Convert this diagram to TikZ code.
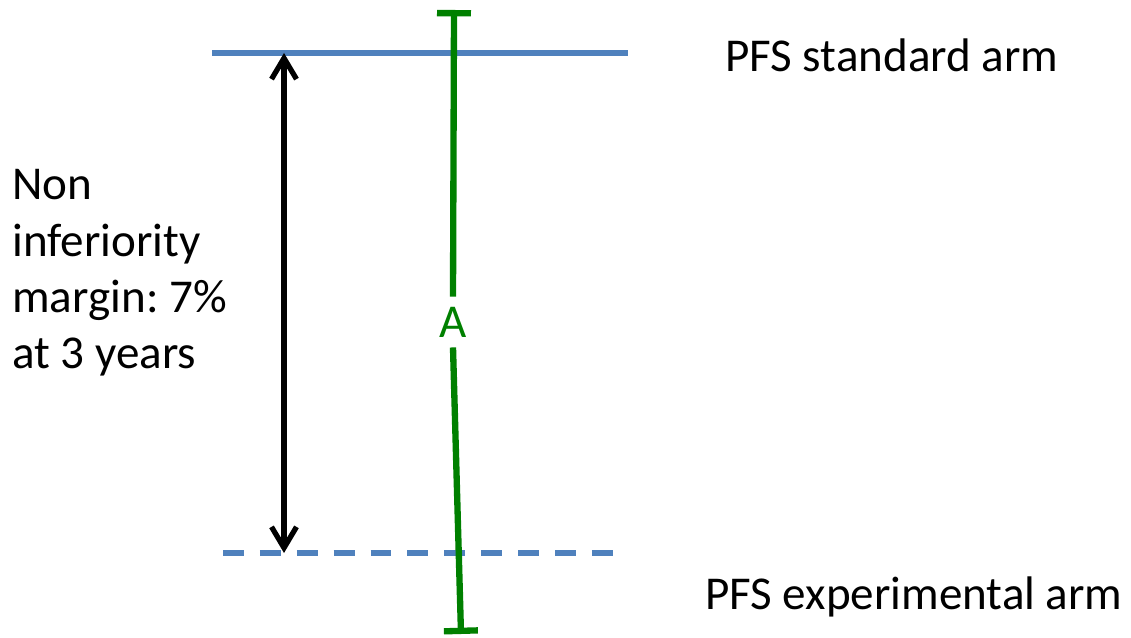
\documentclass[tikz,border=0pt]{standalone}
\usepackage{fontspec}
\setmainfont{Carlito}
\usetikzlibrary{arrows.meta}
\definecolor{armblue}{HTML}{4F81BD}
\definecolor{cigreen}{HTML}{008000}
\frenchspacing

\begin{document}
\begin{tikzpicture}[x=0.02cm,y=-0.02cm,font=\fontsize{26.8}{32}\selectfont,
  arm/.style={armblue,line width=3pt},
  ci/.style={cigreen,line width=3.6pt},
  lbl/.style={inner sep=0pt,anchor=base west}]
\useasboundingbox (0,0) rectangle (1131,638);
% the two arms
\coordinate (std-l) at (212,53);
\coordinate (std-r) at (628,53);
\coordinate (exp-l) at (223,553);
\coordinate (exp-r) at (620,553);
\draw[arm] (std-l)--(std-r);
\draw[arm,dash pattern=on 11.9pt off 9.1pt] (exp-l)--(exp-r);
\node[lbl] (std) at (725,72) {PFS standard arm};
\node[lbl] (exp) at (705,609) {PFS experimental arm};
% margin
\coordinate (mtop) at (284,53);
\coordinate (mbot) at (284,553);
\draw[line width=3pt,{Straight Barb[length=0.42cm,width=0.5cm]}-{Straight Barb[length=0.42cm,width=0.5cm]}] (mtop)--(mbot);
\node[lbl,text width=5cm,align=flush left] (margin) at (12,200) {Non\\inferiority\\margin: 7\%\\at 3 years};
% confidence interval
\node[cigreen,inner sep=0.2cm] (A) at (453,322) {A};
\coordinate (ci-top) at (454,10);
\coordinate (ci-bot) at (461,634);
\draw[ci,{Bar[width=0.68cm]}-] (ci-top)--(A.north);
\draw[ci,-{Bar[width=0.68cm]}] (A.south)--(ci-bot);
\end{tikzpicture}
\end{document}
